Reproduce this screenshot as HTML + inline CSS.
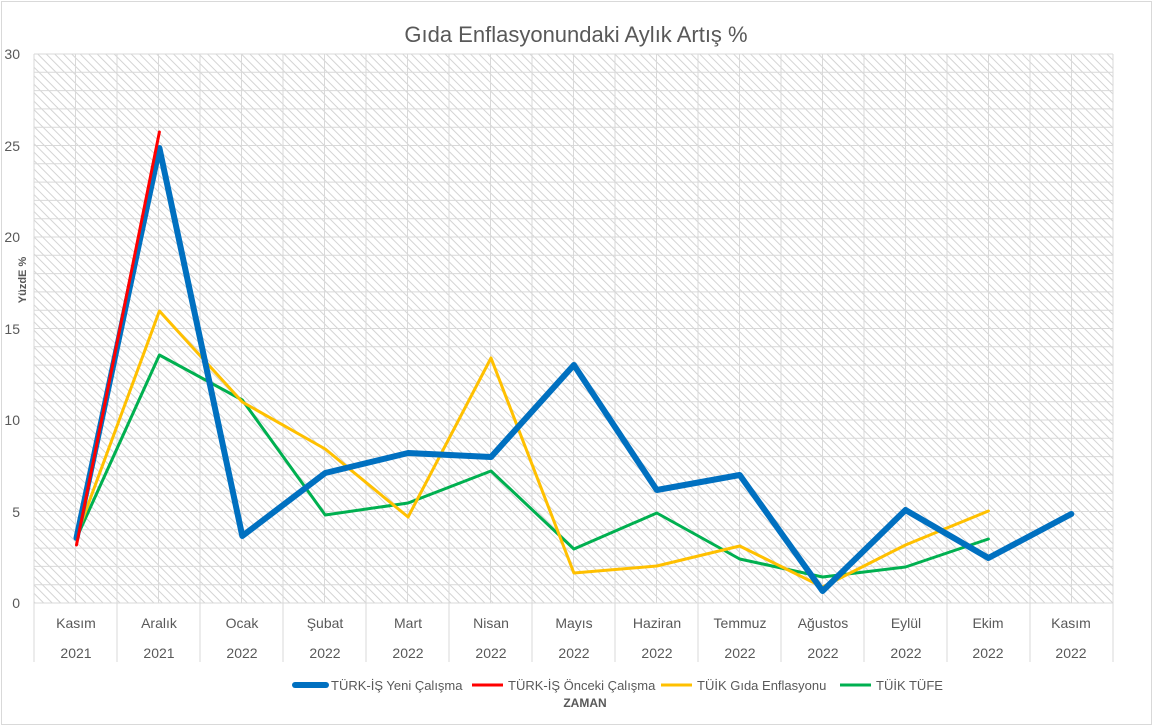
<!DOCTYPE html><html><head><style>body{margin:0;background:#fff}svg{display:block;font-family:"Liberation Sans",sans-serif}</style></head><body>
<svg width="1153" height="727" xmlns="http://www.w3.org/2000/svg">
<defs><pattern id="h" width="6" height="6" patternUnits="userSpaceOnUse" patternTransform="rotate(-45)"><rect width="6" height="6" fill="#fff"/><line x1="0" y1="0" x2="0" y2="6" stroke="#d4d4d4" stroke-width="2"/></pattern></defs>
<rect x="1.5" y="1.5" width="1150" height="723" fill="#fff" stroke="#d9d9d9"/>
<text x="576" y="42" font-size="22" fill="#595959" text-anchor="middle">Gıda Enflasyonundaki Aylık Artış %</text>
<rect x="34" y="54" width="1079" height="549" fill="url(#h)"/>
<path fill="none" stroke="#d9d9d9" stroke-width="1" d="M34 603H1113M34 584.7H1113M34 566.4H1113M34 548.1H1113M34 529.8H1113M34 511.5H1113M34 493.2H1113M34 474.9H1113M34 456.6H1113M34 438.3H1113M34 420H1113M34 401.7H1113M34 383.4H1113M34 365.1H1113M34 346.8H1113M34 328.5H1113M34 310.2H1113M34 291.9H1113M34 273.6H1113M34 255.3H1113M34 237H1113M34 218.7H1113M34 200.4H1113M34 182.1H1113M34 163.8H1113M34 145.5H1113M34 127.2H1113M34 108.9H1113M34 90.6H1113M34 72.3H1113M34 54H1113
M34 54V662M75.5 54V603M117 54V662M158.5 54V603M200 54V662M241.5 54V603M283 54V662M324.5 54V603M366 54V662M407.5 54V603M449 54V662M490.5 54V603M532 54V662M573.5 54V603M615 54V662M656.5 54V603M698 54V662M739.5 54V603M781 54V662M822.5 54V603M864 54V662M905.5 54V603M947 54V662M988.5 54V603M1030 54V662M1071.5 54V603M1113 54V662"/>
<g font-size="14" fill="#595959" text-anchor="end">
<text x="20" y="608">0</text><text x="20" y="517">5</text><text x="20" y="425">10</text><text x="20" y="334">15</text><text x="20" y="242">20</text><text x="20" y="151">25</text><text x="20" y="59">30</text>
</g>
<text transform="translate(26,280) rotate(-90)" font-size="11" font-weight="bold" fill="#595959" text-anchor="middle">YüzdE %</text>
<g font-size="14" fill="#595959" text-anchor="middle">
<text x="76" y="628">Kasım</text><text x="159" y="628">Aralık</text><text x="242" y="628">Ocak</text><text x="325" y="628">Şubat</text><text x="408" y="628">Mart</text><text x="491" y="628">Nisan</text><text x="574" y="628">Mayıs</text><text x="657" y="628">Haziran</text><text x="740" y="628">Temmuz</text><text x="823" y="628">Ağustos</text><text x="906" y="628">Eylül</text><text x="988" y="628">Ekim</text><text x="1071" y="628">Kasım</text>
<text x="76" y="658">2021</text><text x="159" y="658">2021</text><text x="242" y="658">2022</text><text x="325" y="658">2022</text><text x="408" y="658">2022</text><text x="491" y="658">2022</text><text x="574" y="658">2022</text><text x="657" y="658">2022</text><text x="740" y="658">2022</text><text x="823" y="658">2022</text><text x="906" y="658">2022</text><text x="988" y="658">2022</text><text x="1071" y="658">2022</text>
</g>
<g fill="none" stroke-linejoin="round" stroke-linecap="round">
<polyline stroke="#00b050" stroke-width="3" points="76.5,538 159.4,355 242.3,400 325.2,515 408.1,503 491,471 573.9,549 656.8,513 739.7,559 822.6,577 905.5,567 988.4,539"/>
<polyline stroke="#ffc000" stroke-width="3" points="76.5,536 159.4,311 242.3,402 325.2,449 408.1,517 491,358 573.9,573 656.8,566 739.7,546 822.6,587 905.5,545 988.4,511"/>
<polyline stroke="#0070c0" stroke-width="6" points="76.5,538 159.4,148 242.3,536 325.2,473 408.1,453 491,457 573.9,365 656.8,490 739.7,475 822.6,591 905.5,510 988.4,558 1071.3,514"/>
<polyline stroke="#ff0000" stroke-width="3" points="76.5,545 159.4,132"/>
</g>
<g font-size="13" fill="#595959">
<line x1="295" y1="685" x2="326" y2="685" stroke="#0070c0" stroke-width="6" stroke-linecap="round"/><text x="331" y="690">TÜRK-İŞ Yeni Çalışma</text>
<line x1="472" y1="685" x2="503" y2="685" stroke="#ff0000" stroke-width="3"/><text x="508" y="690">TÜRK-İŞ Önceki Çalışma</text>
<line x1="661" y1="685" x2="692" y2="685" stroke="#ffc000" stroke-width="3"/><text x="697" y="690">TÜİK Gıda Enflasyonu</text>
<line x1="840" y1="685" x2="871" y2="685" stroke="#00b050" stroke-width="3"/><text x="876" y="690">TÜİK TÜFE</text>
<text x="585" y="707" font-size="12" font-weight="bold" text-anchor="middle">ZAMAN</text>
</g>
</svg></body></html>
